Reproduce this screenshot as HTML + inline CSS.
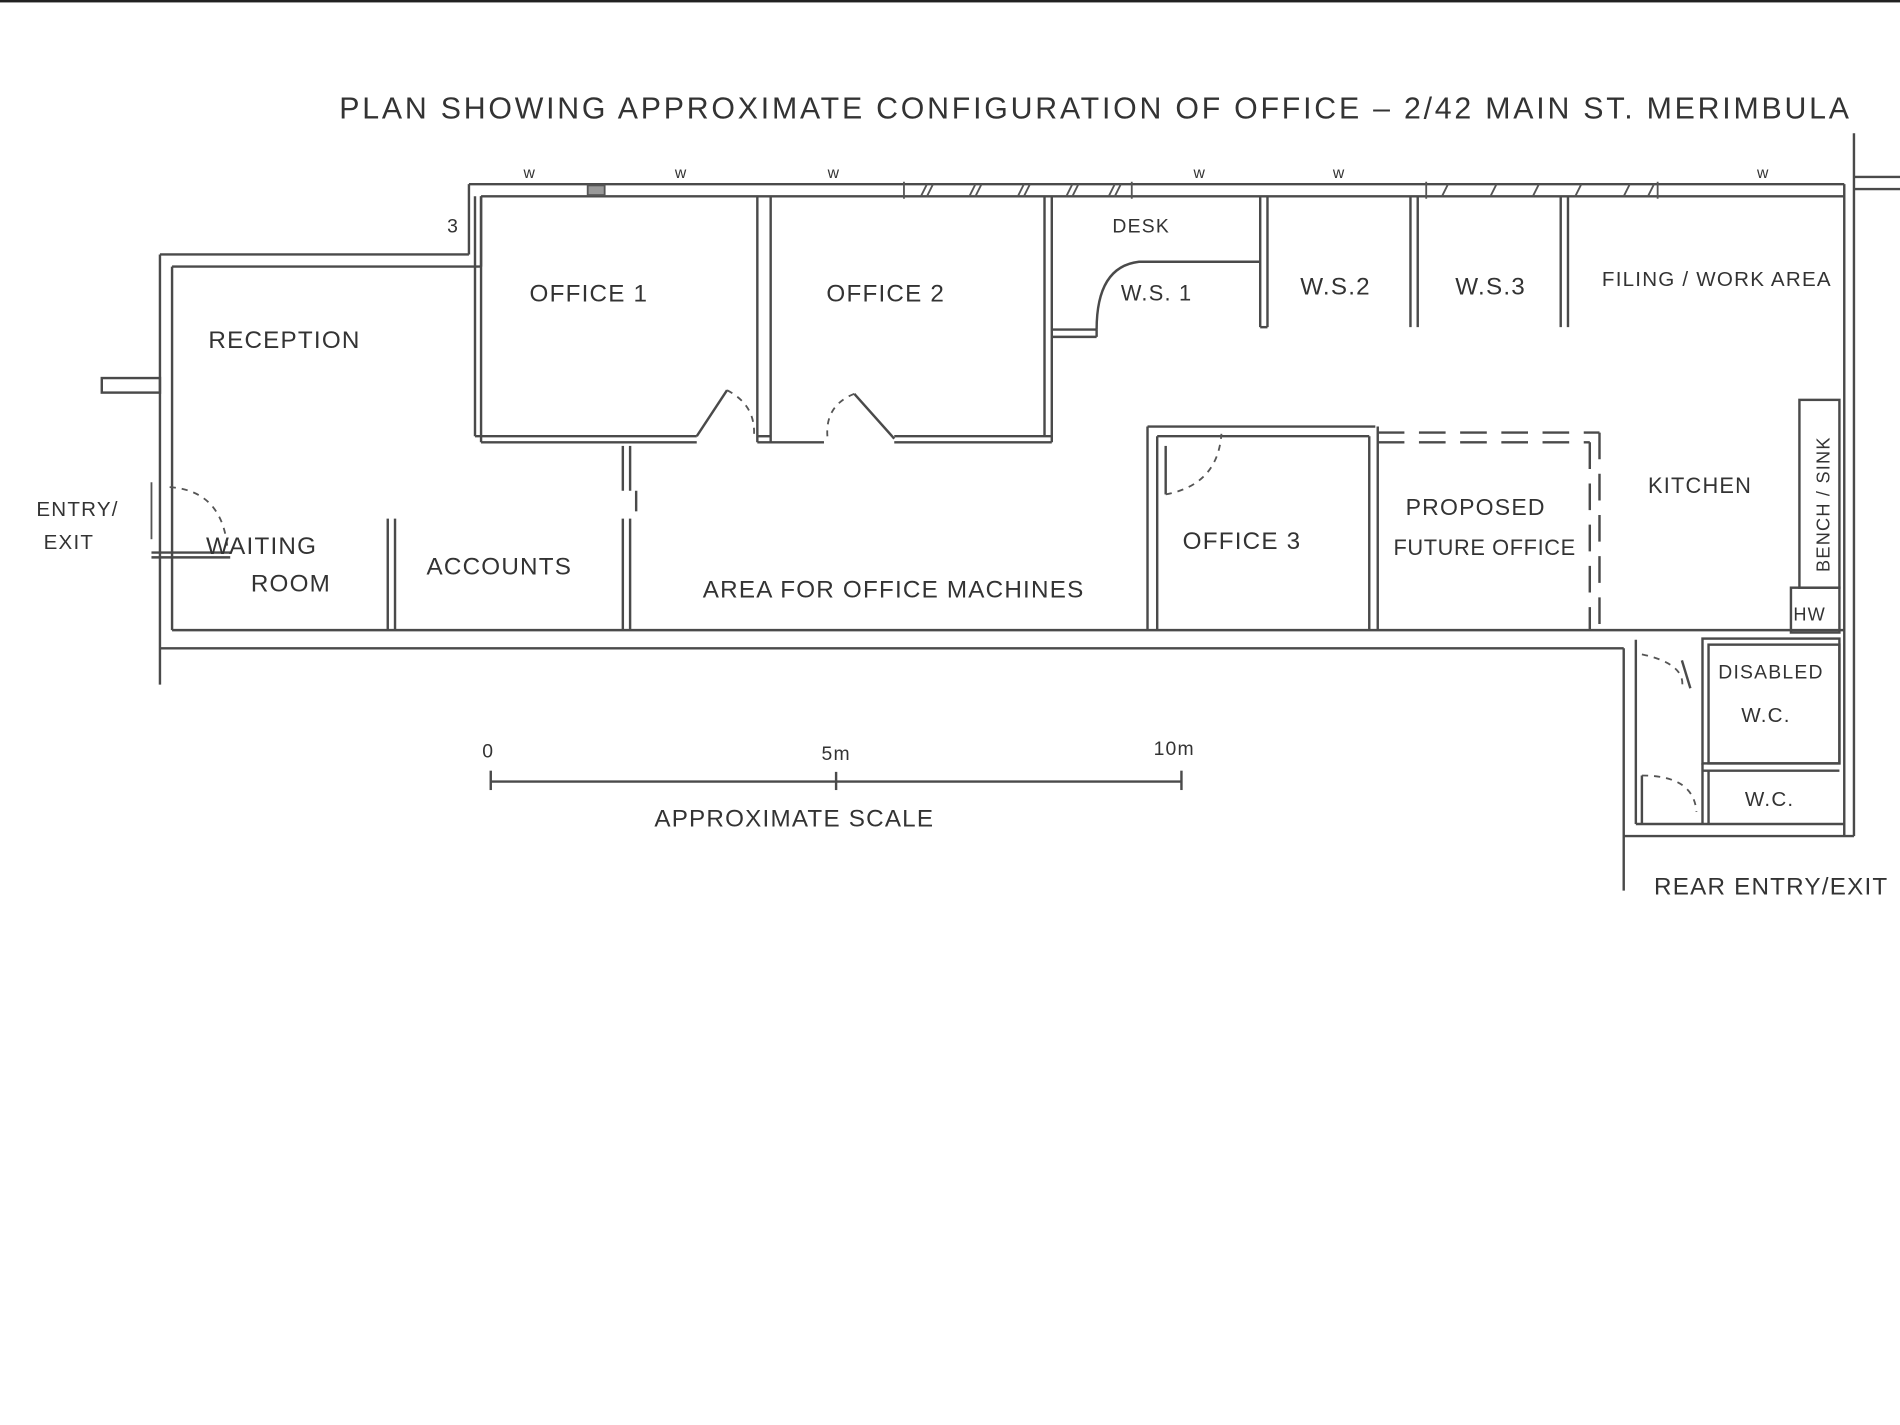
<!DOCTYPE html>
<html><head><meta charset="utf-8"><style>
html,body{margin:0;padding:0;background:#fff;}
svg{display:block}
text{font-family:"Liberation Sans",sans-serif;fill:#333;}
</style></head><body>
<svg width="1900" height="1425" viewBox="0 0 1568 1176" preserveAspectRatio="none" xmlns="http://www.w3.org/2000/svg">
<rect x="0" y="0" width="1568" height="1176" fill="#fff"/>
<rect x="0" y="0" width="1568" height="2" fill="#222"/>
<text x="280" y="98" font-size="25" letter-spacing="2.3">PLAN  SHOWING APPROXIMATE CONFIGURATION OF OFFICE – 2/42 MAIN ST. MERIMBULA</text>
<g stroke="#4a4a4a" stroke-width="2" fill="none">
<line x1="387" y1="152" x2="1522" y2="152"/>
<line x1="397" y1="162" x2="1522" y2="162"/>
<line x1="1522" y1="152" x2="1522" y2="690"/>
<line x1="1530" y1="110" x2="1530" y2="690"/>
<line x1="1530" y1="146" x2="1568" y2="146"/>
<line x1="1530" y1="156" x2="1568" y2="156"/>
<line x1="387" y1="152" x2="387" y2="210"/>
<line x1="397" y1="162" x2="397" y2="220"/>
<line x1="132" y1="210" x2="387" y2="210"/>
<line x1="142" y1="220" x2="397" y2="220"/>
<line x1="132" y1="210" x2="132" y2="565"/>
<line x1="142" y1="220" x2="142" y2="520"/>
<rect x="84" y="312" width="48" height="12"/>
<line x1="125" y1="456" x2="190" y2="456"/>
<line x1="125" y1="460" x2="190" y2="460"/>
<line x1="142" y1="520" x2="1522" y2="520"/>
<line x1="132" y1="535" x2="1340" y2="535"/>
<line x1="1340" y1="535" x2="1340" y2="735"/>
<line x1="1350" y1="528" x2="1350" y2="680"/>
<line x1="1350" y1="680" x2="1522" y2="680"/>
<line x1="1340" y1="690" x2="1530" y2="690"/>
<line x1="397" y1="162" x2="397" y2="365"/>
<line x1="392" y1="162" x2="392" y2="360"/>
<line x1="392" y1="360" x2="575" y2="360"/>
<line x1="397" y1="365" x2="575" y2="365"/>
<line x1="625" y1="162" x2="625" y2="365"/>
<line x1="636" y1="162" x2="636" y2="365"/>
<line x1="625" y1="360" x2="636" y2="360"/>
<line x1="625" y1="365" x2="680" y2="365"/>
<line x1="738" y1="360" x2="868" y2="360"/>
<line x1="738" y1="365" x2="868" y2="365"/>
<line x1="862" y1="162" x2="862" y2="360"/>
<line x1="868" y1="162" x2="868" y2="365"/>
<line x1="575" y1="360" x2="600" y2="322"/>
<line x1="738" y1="362" x2="705" y2="325"/>
<line x1="868" y1="272" x2="905" y2="272"/>
<line x1="868" y1="278" x2="905" y2="278"/>
<path d="M905 272 Q905 220 940 216 L1040 216"/>
<path d="M905 278 L905 272"/>
<line x1="1040" y1="162" x2="1040" y2="270"/>
<line x1="1046" y1="162" x2="1046" y2="270"/>
<line x1="1040" y1="270" x2="1046" y2="270"/>
<line x1="1164" y1="162" x2="1164" y2="270"/>
<line x1="1170" y1="162" x2="1170" y2="270"/>
<line x1="1288" y1="162" x2="1288" y2="270"/>
<line x1="1294" y1="162" x2="1294" y2="270"/>
<line x1="320" y1="428" x2="320" y2="520"/>
<line x1="326" y1="428" x2="326" y2="520"/>
<line x1="514" y1="428" x2="514" y2="520"/>
<line x1="520" y1="428" x2="520" y2="520"/>
<line x1="514" y1="368" x2="514" y2="405"/>
<line x1="520" y1="368" x2="520" y2="405"/>
<line x1="525" y1="405" x2="525" y2="422"/>
<line x1="947" y1="352" x2="1135" y2="352"/>
<line x1="955" y1="360" x2="1130" y2="360"/>
<line x1="947" y1="352" x2="947" y2="520"/>
<line x1="955" y1="360" x2="955" y2="520"/>
<line x1="1130" y1="360" x2="1130" y2="520"/>
<line x1="1137" y1="352" x2="1137" y2="520"/>
<line x1="962" y1="368" x2="962" y2="408"/>
<rect x="1485" y="330" width="33" height="155"/>
<rect x="1478" y="485" width="40" height="37"/>
<rect x="1405" y="527" width="113" height="103"/>
<rect x="1410" y="532" width="108" height="98"/>
<line x1="1405" y1="636" x2="1518" y2="636"/>
<line x1="1405" y1="630" x2="1405" y2="680"/>
<line x1="1410" y1="636" x2="1410" y2="680"/>
<line x1="1355" y1="640" x2="1355" y2="680"/>
<line x1="1388" y1="545" x2="1395" y2="568"/>
<line x1="405" y1="645" x2="975" y2="645"/>
<line x1="405" y1="636" x2="405" y2="652"/>
<line x1="690" y1="637" x2="690" y2="652"/>
<line x1="975" y1="636" x2="975" y2="652"/>
</g>
<g stroke="#555" stroke-width="1.5" fill="none" stroke-dasharray="5,5">
<path d="M600 322 Q625 335 622 362"/>
<path d="M705 325 Q680 335 683 362"/>
<path d="M962 408 Q1005 400 1008 358"/>
<path d="M140 402 Q185 405 188 456"/>
<path d="M1355 540 Q1392 548 1388 568"/>
<path d="M1355 640 Q1398 640 1400 670"/>
</g>
<g stroke="#4a4a4a" stroke-width="2" fill="none" stroke-dasharray="22,12">
<line x1="1137" y1="357" x2="1320" y2="357"/>
<line x1="1137" y1="365" x2="1312" y2="365"/>
<line x1="1312" y1="365" x2="1312" y2="520"/>
<line x1="1320" y1="357" x2="1320" y2="520"/>
</g>
<g stroke="#555" stroke-width="1.5">
<line x1="760" y1="162" x2="765" y2="152"/><line x1="765" y1="162" x2="770" y2="152"/>
<line x1="800" y1="162" x2="805" y2="152"/><line x1="805" y1="162" x2="810" y2="152"/>
<line x1="840" y1="162" x2="845" y2="152"/><line x1="845" y1="162" x2="850" y2="152"/>
<line x1="880" y1="162" x2="885" y2="152"/><line x1="885" y1="162" x2="890" y2="152"/>
<line x1="915" y1="162" x2="920" y2="152"/><line x1="920" y1="162" x2="925" y2="152"/>
<line x1="1190" y1="162" x2="1195" y2="152"/><line x1="1230" y1="162" x2="1235" y2="152"/>
<line x1="1265" y1="162" x2="1270" y2="152"/><line x1="1300" y1="162" x2="1305" y2="152"/>
<line x1="1340" y1="162" x2="1345" y2="152"/><line x1="1360" y1="162" x2="1365" y2="152"/>
<line x1="746" y1="150" x2="746" y2="164"/><line x1="934" y1="150" x2="934" y2="164"/>
<line x1="1177" y1="150" x2="1177" y2="164"/><line x1="1368" y1="150" x2="1368" y2="164"/>
<rect x="485" y="153" width="14" height="8" fill="#999"/>
<line x1="125" y1="398" x2="125" y2="445"/>
</g>
<g font-size="13">
<text x="432" y="147">w</text><text x="557" y="147">w</text><text x="683" y="147">w</text>
<text x="985" y="147">w</text><text x="1100" y="147">w</text><text x="1450" y="147">w</text>
</g>
<g font-size="20" letter-spacing="1">
<text x="437" y="249">OFFICE 1</text>
<text x="682" y="249">OFFICE 2</text>
<text x="918" y="192" font-size="16">DESK</text>
<text x="925" y="248" font-size="18">W.S. 1</text>
<text x="1073" y="243">W.S.2</text>
<text x="1201" y="243">W.S.3</text>
<text x="1322" y="236" font-size="17">FILING / WORK AREA</text>
<text x="172" y="287">RECEPTION</text>
<text x="30" y="426" font-size="17">ENTRY/</text>
<text x="36" y="453" font-size="17">EXIT</text>
<text x="170" y="457">WAITING</text>
<text x="207" y="488">ROOM</text>
<text x="352" y="474">ACCOUNTS</text>
<text x="580" y="493">AREA FOR OFFICE MACHINES</text>
<text x="976" y="453">OFFICE 3</text>
<text x="1160" y="425" font-size="19">PROPOSED</text>
<text x="1150" y="458" font-size="18" letter-spacing="0.5">FUTURE OFFICE</text>
<text x="1360" y="407" font-size="18">KITCHEN</text>
<text x="1480" y="512" font-size="15">HW</text>
<text x="1418" y="560" font-size="16">DISABLED</text>
<text x="1437" y="596" font-size="17">W.C.</text>
<text x="1440" y="665" font-size="17">W.C.</text>
<text x="1365" y="738">REAR ENTRY/EXIT</text>
<text x="540" y="682">APPROXIMATE  SCALE</text>
<text x="398" y="625" font-size="16">0</text>
<text x="678" y="627" font-size="16">5m</text>
<text x="952" y="623" font-size="16">10m</text>
<text x="369" y="192" font-size="16">3</text>
</g>
<text transform="translate(1510,472) rotate(-90)" font-size="15" letter-spacing="1">BENCH / SINK</text>
</svg>
</body></html>
